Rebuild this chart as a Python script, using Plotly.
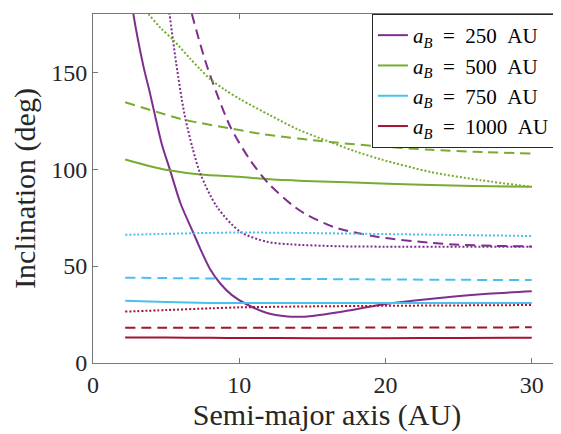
import plotly.graph_objects as go

# ---- data (semi-major axis in AU, inclination in deg) ----
series_labels = ["250", "500", "750", "1000"]
colors = ["#7E2F8E", "#77AC30", "#4DBEEE", "#A2142F"]

# a_B = 250 AU
x_250_solid = [2.4, 2.76, 3.45, 3.9, 4.2, 4.7, 5.27, 6.0, 6.87, 7.33, 8.0, 8.7, 9.5, 10.5, 11.9, 13.3, 14.0, 15.0, 16.9, 19.7, 22.0, 24.7, 27.0, 30.0]
i_250_solid = [200, 180, 153, 139, 129, 113, 99.5, 82, 67, 59, 48.5, 41, 35, 30.3, 25.8, 24.0, 23.8, 24.3, 26.3, 30.0, 32.2, 34.3, 35.7, 37.0]
x_250_dash = [6.5, 6.76, 7.2, 7.67, 8.12, 9.38, 10.75, 12.0, 13.7, 14.5, 16.5, 19.5, 23.1, 25.0, 27.5, 30.0]
i_250_dash = [188, 180, 168, 156, 146, 122, 104.6, 92.6, 81, 77, 70, 65, 62, 61, 60.4, 60.1]
x_250_dot = [4.95, 5.23, 5.7, 6.25, 6.8, 7.33, 8.47, 10.07, 11.9, 13.5, 16.9, 20.0, 25.0, 30.0]
i_250_dot = [195, 180, 154, 128.5, 111, 97.8, 80.6, 67.7, 62.5, 61.2, 60.2, 60.0, 60.0, 60.0]

# a_B = 500 AU
x_500_solid = [2.2, 3.9, 5.1, 7.33, 10.0, 12.1, 15.0, 19.7, 23.1, 26.0, 30.0]
i_500_solid = [105, 101.5, 99.5, 97.2, 96.0, 94.8, 93.8, 92.6, 91.8, 91.3, 90.9]
x_500_dash = [2.2, 4.36, 5.96, 6.85, 9.38, 11.66, 16.2, 20.0, 23.1, 26.0, 30.0]
i_500_dash = [134.5, 129.5, 126, 124.5, 121, 118, 114, 111.5, 110, 109, 108]
x_500_dot = [2.2, 3.0, 3.79, 4.6, 5.5, 6.64, 7.33, 8.0, 9.0, 10.07, 12.1, 14.0, 16.2, 18.0, 19.7, 23.1, 26.5, 30.0]
i_500_dot = [194, 187, 180, 173, 166.5, 157, 151.5, 146.5, 141, 136, 127.8, 120.5, 114, 109, 105, 98.5, 94.3, 90.9]

# a_B = 750 AU
x_750 = [2.2, 5.0, 8.0, 10.0, 15.0, 20.0, 25.0, 30.0]
i_750_solid = [32.1, 31.4, 31.0, 30.9, 30.9, 30.9, 30.9, 30.9]
i_750_dash = [44.0, 43.8, 43.6, 43.4, 43.3, 43.1, 42.9, 42.8]
i_750_dot = [66.1, 66.6, 67.1, 67.3, 67.0, 66.5, 66.0, 65.5]

# a_B = 1000 AU
x_1000 = [2.2, 5.0, 8.0, 10.0, 15.0, 20.0, 25.0, 30.0]
i_1000_solid = [13.2, 13.1, 13.0, 12.9, 12.8, 12.8, 12.9, 13.0]
i_1000_dash = [18.2, 18.2, 18.2, 18.2, 18.2, 18.3, 18.3, 18.4]
i_1000_dot = [26.5, 27.3, 28.2, 28.7, 29.2, 29.5, 29.7, 29.9]

x_ticks = [0, 10, 20, 30]
y_ticks = [0, 50, 100, 150]

curves = [
    (0, "solid", x_250_solid, i_250_solid, True),
    (1, "solid", x_500_solid, i_500_solid, True),
    (2, "solid", x_750, i_750_solid, True),
    (3, "solid", x_1000, i_1000_solid, True),
    (0, "dash", x_250_dash, i_250_dash, False),
    (0, "dot", x_250_dot, i_250_dot, False),
    (1, "dash", x_500_dash, i_500_dash, False),
    (1, "dot", x_500_dot, i_500_dot, False),
    (2, "dash", x_750, i_750_dash, False),
    (2, "dot", x_750, i_750_dot, False),
    (3, "dash", x_1000, i_1000_dash, False),
    (3, "dot", x_1000, i_1000_dot, False),
]
dash_map = {"solid": "solid", "dash": "10px,6px", "dot": "2px,2px"}

fig = go.Figure()
for k, style, xs, ys, leg in curves:
    fig.add_trace(go.Scatter(
        x=xs, y=ys, mode="lines",
        line=dict(color=colors[k], width=2, dash=dash_map[style], shape="spline", smoothing=0.8),
        name="<i>a</i><sub><i>B</i></sub>&nbsp;&nbsp;=&nbsp;&nbsp;" + series_labels[k] + "&nbsp;&nbsp;AU",
        showlegend=leg, legendrank=k,
    ))

font_family = "Liberation Serif, DejaVu Serif, serif"
axis_common = dict(
    showline=True, linecolor="#777777", linewidth=1, mirror="allticks",
    ticks="inside", ticklen=5, tickcolor="#777777", showgrid=False, zeroline=False,
    automargin=False,
    tickfont=dict(family=font_family, size=24, color="#262626"),
)
# page body has an 8px margin, so the figure is sized/offset accordingly
fig.update_layout(
    width=553, height=426,
    margin=dict(l=85, r=0, t=6, b=71, autoexpand=False),
    paper_bgcolor="white", plot_bgcolor="white",
    xaxis=dict(range=[0, 32], tickvals=x_ticks,
               title=dict(text="Semi-major axis (AU)", font=dict(family=font_family, size=30, color="#262626"), standoff=6),
               **axis_common),
    yaxis=dict(range=[0, 180], tickvals=y_ticks,
               title=dict(text="Inclination (deg)", font=dict(family=font_family, size=30, color="#262626"), standoff=15),
               **axis_common),
    legend=dict(x=0.987, xanchor="right", y=1.0, yanchor="top",
                bgcolor="white", bordercolor="#262626", borderwidth=1,
                font=dict(family=font_family, size=21, color="#000000"),
                tracegroupgap=0),
    showlegend=True,
)
fig.write_html("out.html")
